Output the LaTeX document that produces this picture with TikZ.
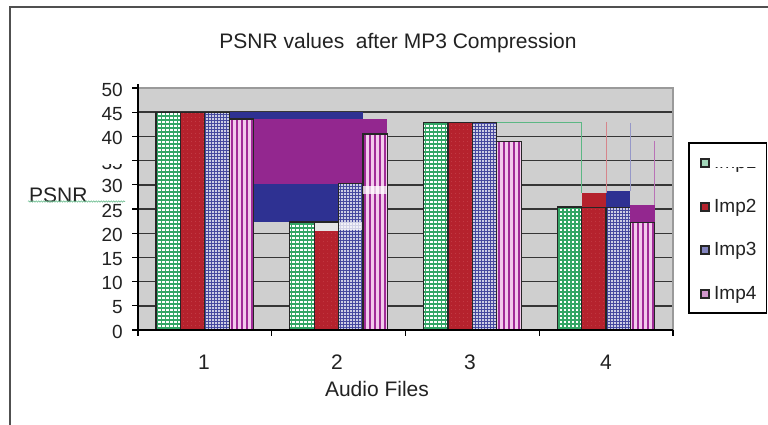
\documentclass[tikz,border=0pt]{standalone}
\usepackage{fontspec}
\setmainfont{Liberation Sans}
\usetikzlibrary{patterns.meta,decorations.pathmorphing}
\definecolor{grn}{HTML}{33A565}
\definecolor{redc}{HTML}{B5222D}
\definecolor{redd}{HTML}{D0555C}
\definecolor{navy}{HTML}{2E3192}
\definecolor{purp}{HTML}{93278F}
\definecolor{pinkl}{HTML}{F2CBEC}
\definecolor{stripe}{HTML}{A12C98}
\definecolor{bgc}{HTML}{CFCFCF}
\definecolor{gridc}{HTML}{363636}
\definecolor{bordc}{HTML}{9A9A9A}
\definecolor{framec}{HTML}{505050}
\definecolor{txt}{HTML}{222222}
\newcommand\vy[1]{330-4.84*(#1)}
\newcommand\mybar[3]{\path[#1] (#2,330) rectangle ({#2+24.4},{\vy{#3}});}
\newcommand\gridbar[2]{%
  \begin{scope}
    \clip (#1,330) rectangle ({#1+24.4},{\vy{#2}});
    \fill[white] (#1,330) rectangle ({#1+24.4},{\vy{#2}});
    \foreach \k in {0,...,6} \draw[grn, line width=1.3pt] ({#1+1.8+4*\k},332) -- ({#1+1.8+4*\k},80);
    \foreach \k in {0,...,62} \draw[grn, line width=1.3pt] ({#1-1},{328-4*\k}) -- ({#1+26},{328-4*\k});
  \end{scope}
  \path[outl] (#1,330) rectangle ({#1+24.4},{\vy{#2}});}
\newcommand\stripebar[2]{%
  \begin{scope}
    \clip (#1,330) rectangle ({#1+24.4},{\vy{#2}});
    \fill[pinkl] (#1,330) rectangle ({#1+24.4},{\vy{#2}});
    \foreach \k in {0,...,5} \draw[stripe, line width=2pt] ({#1+2.5+5*\k},332) -- ({#1+2.5+5*\k},80);
  \end{scope}
  \path[outl] (#1,330) rectangle ({#1+24.4},{\vy{#2}});}
\tikzset{
  outl/.style={draw=black!85, line width=1.2pt},
  rbar/.style={fill=redc,
    postaction={pattern={Dots[distance=4pt,radius=0.45pt]}, pattern color=redd}},
  bbar/.style={fill=navy!90,
    postaction={pattern={Dots[distance=3pt,radius=1.05pt]}, pattern color=white}},
  lbl/.style={inner sep=0pt, text=txt, font=\fontsize{19}{22}\selectfont},
  big/.style={inner sep=0pt, text=txt, font=\fontsize{21}{24}\selectfont},
  thin/.style={line width=0.8pt},
}
\begin{document}
\begin{tikzpicture}[x=1pt,y=-1pt]
\useasboundingbox (0,0) rectangle (768,425);
\fill[white] (0,0) rectangle (768,425);
% outer frame
\draw[framec, line width=2pt] (10,425) -- (10,7) -- (768,7);
% title
\node[big] (title) at (398,43) {PSNR values\ \ after MP3 Compression};
% plot area
\fill[bgc] (138,88) rectangle (673,330);
\foreach \v in {5,10,...,45} \draw[gridc, line width=1.4pt] (138,{\vy{\v}}) -- (673,{\vy{\v}});
\draw[bordc, line width=1.5pt] (138,88) -- (673,88) -- (673,330);
% glitch rectangles cat 2
\fill[navy] (229.2,{\vy{45}}) rectangle (362.95,{\vy{22.3}});
\fill[purp] (253.6,{\vy{43.6}}) rectangle (387.35,{\vy{30.2}});
% cat 1
\gridbar{156}{45}
\mybar{rbar,postaction={outl}}{180.4}{45}
\mybar{bbar,postaction={outl}}{204.8}{45}
\stripebar{229.2}{43.6}
% cat 2
\gridbar{289.75}{22.3}
\fill[black!10] (314.15,{\vy{22.3}}) rectangle (338.55,{\vy{20.5}});
\mybar{rbar}{314.15}{20.5}
\mybar{outl}{314.15}{22.3}
\mybar{bbar,postaction={outl}}{338.55}{30.2}
\fill[white, opacity=0.75] (338.55,222) rectangle (362.95,230);
\stripebar{362.95}{40.5}
\fill[white, opacity=0.75] (362.95,186) rectangle (387.35,194);
% cat 3
\gridbar{423.5}{42.8}
\mybar{rbar,postaction={outl}}{447.9}{42.8}
\mybar{bbar,postaction={outl}}{472.3}{42.8}
\stripebar{496.7}{38.9}
% cat 4
\gridbar{557.25}{25.4}
\mybar{rbar,postaction={outl}}{581.65}{25.4}
\mybar{bbar,postaction={outl}}{606.05}{25.4}
\stripebar{630.45}{22.3}
\fill[redc] (581.65,193) rectangle (606.05,{\vy{25.4}});
\fill[navy] (606.05,191) rectangle (630.45,{\vy{25.4}});
\fill[purp] (630.45,205) rectangle (654.85,{\vy{22.3}});
\draw[grn!80, thin] (496.7,122) -- (581.65,122) -- (581.65,193);
\draw[redc!55, thin] (606.05,122) -- (606.05,193);
\draw[navy!50, thin] (630.45,123) -- (630.45,191);
\draw[purp!65, thin] (654.85,141) -- (654.85,205);
% axes
\draw[black, line width=1.4pt] (138,84) -- (138,336);
\draw[black, line width=1.4pt] (138,330) -- (673,330);
\foreach \v in {0,5,...,50} \draw[black, line width=1.3pt] (132,{\vy{\v}}) -- (138,{\vy{\v}});
\foreach \i in {1,2,3,4} \draw[black, line width=1.3pt] ({138+133.75*\i},330) -- ({138+133.75*\i},336);
% y labels
\foreach \v in {0,5,10,15,20,25,30,40,45,50}
  \node[lbl, anchor=east] (y\v) at (123,{\vy{\v}+1.5}) {\v};
\begin{scope}
  \clip (90,164) rectangle (130,176);
  \node[lbl, anchor=east] (y35) at (123,163) {35};
\end{scope}
% x labels
\node[big] (c1) at (204,362) {1};
\node[big] (c2) at (337,362) {2};
\node[big] (c3) at (470,362) {3};
\node[big] (c4) at (606,362) {4};
\node[big] (xlab) at (377,389) {Audio Files};
% y axis title
\node[big, anchor=west] (ylab) at (29,195) {PSNR};
\draw[grn!70, line width=0.6pt, decorate, decoration={snake, amplitude=0.7pt, segment length=2.5pt}] (28,201.5) -- (125,201.5);
% legend
\draw[black, line width=1.3pt] (689,143) rectangle (766.5,313);
\path[fill=grn!45, outl] (701,159) rectangle (709,167);
\path[fill=redc, outl] (701,203) rectangle (709,211);
\path[fill=navy!60, outl] (701,246) rectangle (709,254);
\path[fill=stripe!50, outl] (701,290) rectangle (709,298);
\begin{scope}
  \clip (710,167) rectangle (766,180);
  \node[lbl, anchor=west] (l1) at (714,163.5) {Imp1};
\end{scope}
\node[lbl, anchor=west] (l2) at (714,207.5) {Imp2};
\node[lbl, anchor=west] (l3) at (714,250.5) {Imp3};
\node[lbl, anchor=west] (l4) at (714,294.5) {Imp4};
\end{tikzpicture}
\end{document}
